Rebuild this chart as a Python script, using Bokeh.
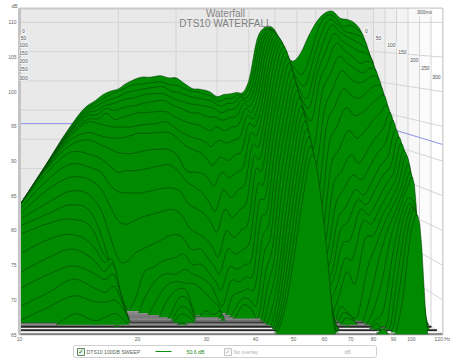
import numpy as np
from bokeh.embed import file_html
from bokeh.layouts import column
from bokeh.models import BoxAnnotation, FixedTicker, Label
from bokeh.plotting import figure
from bokeh.resources import INLINE

FREQS = [10, 12, 14, 16, 17, 18, 19, 20, 21, 22, 23.5, 25, 27, 28.5, 30, 32, 34, 35, 36, 38, 40, 42, 44, 46, 48, 50,
         53, 56, 60, 64, 68, 72, 76, 80, 85, 90, 95, 100, 105, 110, 115, 120]
SLICES_MS = [round(i * 12) for i in range(26)]
BASE = [72.1, 71.8, 71.5, 71.2, 71.0, 70.7, 70.4, 70.1, 69.8, 69.5, 69.2, 69.0, 68.7, 68.4, 68.1, 67.8, 67.5, 67.3,
        67.0, 66.7, 66.4, 66.1, 65.8, 65.6, 65.3, 65.0]
BELOW = 60.0

L_10 = [83.6, 83.6, 83.6, 83.6, 83.6, 83.6, 83.6, 83.6, 83.6, 83.6, 83.0, 82.3, 81.6, 80.6, 79.4, 76.6, 73.9, 71.6, 69.0, 67.0]
L_12 = [89.4, 89.4, 89.4, 89.4, 89.3, 89.3, 89.3, 89.1, 89.0, 88.4, 87.3, 85.9, 84.0, 82.4, 81.0, 78.7, 76.1, 73.7, 71.1, 69.0, 65.1]
L_14 = [94.4, 94.3, 94.1, 94.0, 93.9, 93.7, 93.4, 93.0, 92.3, 91.3, 89.6, 87.7, 85.7, 83.7, 81.6, 79.4, 77.3, 74.9, 73.0, 70.6, 68.0]
L_16 = [97.9, 97.6, 97.3, 97.0, 96.6, 96.1, 95.7, 94.1, 93.0, 90.9, 89.0, 87.1, 84.7, 82.1, 79.9, 77.6, 75.6, 73.7, 71.6, 69.7, 67.0]
L_17 = [98.7, 98.4, 97.9, 97.3, 96.7, 96.1, 95.4, 93.7, 92.4, 90.4, 88.4, 85.9, 82.6, 78.7, 76.6, 75.4, 74.1, 72.9, 71.1, 69.7, 67.6]
L_18 = [99.6, 99.1, 98.6, 98.0, 97.6, 96.9, 95.1, 93.4, 91.9, 89.4, 86.6, 83.4, 78.7, 74.4, 74.7, 75.6, 75.1, 73.6, 71.9, 69.9, 68.0, 66.3]
L_19 = [100.1, 99.7, 99.0, 98.3, 97.3, 96.0, 94.9, 93.3, 91.3, 88.4, 85.6, 81.3, 75.6, 70.9, 69.4, 70.1, 70.1, 69.7, 69.0, 68.4, 66.9]
L_20 = [100.4, 100.1, 99.4, 98.7, 97.6, 96.3, 94.9, 93.4, 91.1, 88.6, 85.4, 80.9, 75.6, 68.6]
L_21 = [101.1, 100.6, 99.9, 99.0, 97.9, 96.6, 94.9, 93.7, 91.1, 88.6, 85.4, 81.4, 76.7, 70.4]
L_22 = [101.6, 101.0, 100.1, 99.1, 98.0, 96.9, 95.1, 94.0, 91.3, 88.7, 85.4, 81.9, 77.3, 73.7, 70.1]
L_23 = [102.1, 101.1, 100.4, 99.6, 98.4, 97.0, 95.3, 94.0, 91.6, 89.0, 85.7, 82.3, 78.0, 74.7, 72.6, 69.7]
L_25 = [102.1, 101.3, 100.6, 99.7, 98.6, 97.1, 95.4, 94.1, 91.7, 89.3, 86.0, 82.7, 78.7, 75.6, 73.7, 71.9, 69.7, 67.0]
L_27 = [102.3, 101.4, 100.7, 99.7, 98.7, 97.1, 95.6, 94.1, 91.6, 89.4, 86.1, 83.0, 79.4, 76.1, 73.7, 72.6, 71.6, 70.4, 69.0, 68.0, 66.7]
L_28 = [102.0, 101.0, 100.1, 99.1, 98.0, 96.4, 94.7, 93.4, 90.7, 88.4, 85.6, 82.3, 79.0, 76.6, 74.4, 72.4, 71.1, 69.9, 68.4, 67.3]
L_30 = [102.0, 100.9, 99.9, 98.7, 97.6, 95.9, 94.0, 92.3, 88.7, 87.0, 83.9, 80.4, 77.3, 75.1, 73.7, 72.3, 67.7]
L_32 = [101.1, 100.3, 99.4, 98.3, 97.0, 95.4, 93.4, 91.6, 88.4, 86.1, 83.0, 79.4, 77.3, 75.1, 73.0, 71.1, 68.4]
L_34 = [100.4, 100.0, 99.1, 98.1, 96.9, 95.1, 93.0, 90.9, 88.0, 84.7, 81.9, 78.3, 75.6, 73.4, 71.6, 69.7, 67.9]
L_35 = [100.4, 99.9, 99.0, 98.0, 96.6, 94.7, 92.6, 90.1, 87.3, 83.7, 80.9, 77.3, 74.7, 72.6, 70.1, 69.0, 68.4, 68.0, 67.3]
L_36 = [100.3, 99.7, 98.9, 97.9, 96.4, 94.4, 92.1, 89.4, 86.4, 82.7, 79.7, 76.1, 73.7, 71.3, 69.0]
L_38 = [100.0, 99.4, 98.6, 97.6, 96.3, 94.9, 93.0, 90.6, 88.4, 85.9, 83.0, 79.9, 77.3, 74.7, 72.7, 70.4, 68.3, 67.4]
L_40 = [99.3, 98.6, 97.9, 97.0, 95.9, 94.4, 92.6, 90.1, 87.6, 84.7, 81.9, 79.0, 76.6, 74.4, 72.6, 71.1, 70.1, 69.3]
L_42 = [99.6, 99.0, 98.3, 97.4, 96.3, 94.9, 93.0, 90.9, 88.4, 85.9, 83.0, 80.1, 77.3, 75.1, 73.3, 71.6, 70.1, 68.7]
L_44 = [99.7, 99.1, 98.4, 97.6, 96.6, 95.3, 93.6, 91.6, 89.3, 86.9, 84.3, 81.4, 78.7, 76.1, 73.9, 71.9, 69.4, 67.6]
L_46 = [99.9, 99.6, 99.3, 98.9, 98.3, 97.6, 96.6, 95.4, 94.0, 92.3, 90.6, 88.7, 86.4, 84.0, 81.6, 79.0, 76.6, 74.1, 71.9, 69.9, 68.1, 67.0, 66.4, 66.1, 66.0, 65.9]
L_48 = [99.9, 99.6, 99.1, 98.6, 97.9, 97.0, 96.1, 95.0, 93.7, 92.1, 90.4, 88.7, 86.9, 85.0, 83.0, 81.1, 79.3, 77.6, 75.9, 74.4, 73.0, 72.0, 71.3, 70.7, 70.1, 69.7]
L_50 = [101.6, 101.3, 100.9, 100.4, 99.9, 99.3, 98.7, 98.0, 97.3, 96.4, 95.6, 94.4, 93.3, 92.0, 90.6, 89.1, 87.6, 86.0, 84.4, 82.7, 81.0, 79.9, 78.7, 77.6, 76.6, 75.6]
L_53 = [107.6, 107.4, 107.1, 106.9, 106.6, 106.1, 105.7, 105.1, 104.6, 103.9, 103.0, 102.0, 100.9, 99.7, 98.4, 97.1, 95.9, 94.6, 93.3, 92.0, 90.9, 89.7, 88.6, 87.4, 86.3, 85.1]
L_56 = [109.3, 109.1, 109.0, 108.9, 108.7, 108.6, 108.3, 108.0, 107.6, 107.1, 106.6, 105.9, 105.1, 104.3, 103.3, 102.3, 101.3, 100.3, 99.3, 98.1, 97.0, 95.9, 94.7, 93.6, 92.3, 91.1]
L_60 = [108.9, 108.1, 107.6, 106.7, 106.0, 105.1, 104.1, 103.0, 102.1, 101.1, 100.1, 99.0, 97.6, 95.1, 94.4, 93.0, 91.9, 90.9, 90.1, 88.7, 87.6, 86.1, 84.7, 83.0, 81.6, 80.4]
L_64 = [105.9, 105.1, 104.4, 103.6, 101.9, 100.4, 99.1, 97.6, 95.9, 93.7, 92.6, 91.6, 90.4, 89.4, 88.0, 86.7, 85.6, 84.4, 82.7, 79.4, 76.6, 73.7, 71.3, 69.0, 67.0, 64.7]
L_68 = [104.4, 103.3, 101.9, 100.4, 99.1, 97.6, 94.4, 92.0, 89.4, 85.9, 83.0, 80.9, 78.7, 76.6, 74.4, 72.7, 70.9, 68.7]
L_72 = [105.6, 102.6, 100.9, 99.1, 97.7, 95.9, 91.9, 89.1, 85.4, 82.3, 79.9, 78.0, 76.6, 75.1, 73.7, 73.0, 71.6, 70.1, 69.0, 68.1, 67.3, 66.3]
L_76 = [108.0, 105.4, 104.4, 103.3, 102.7, 101.6, 99.9, 97.3, 95.1, 92.3, 89.4, 86.6, 83.7, 81.6, 79.9, 78.0, 75.9, 74.1, 68.0, 67.6, 67.0]
L_80 = [109.9, 109.0, 108.0, 106.9, 105.6, 104.1, 102.3, 100.1, 97.7, 94.9, 91.6, 88.4, 85.9, 83.4, 81.3, 78.7, 75.9, 72.3, 67.6]
L_85 = [111.3, 111.0, 110.4, 109.6, 108.4, 107.0, 105.1, 103.0, 100.4, 97.7, 94.4, 90.9, 88.0, 85.9, 84.4, 83.0, 81.3, 78.7, 74.4, 70.1, 68.0, 67.0, 66.6, 65.9, 65.4, 65.9]
L_90 = [111.6, 110.7, 109.7, 108.6, 107.3, 105.9, 104.1, 102.0, 99.4, 96.6, 93.3, 89.7, 87.3, 85.1, 83.7, 82.3, 80.9, 79.4, 78.0, 75.9, 72.3, 68.7, 66.1]
L_95 = [110.6, 109.4, 108.7, 107.9, 106.6, 105.0, 103.3, 101.3, 99.1, 97.0, 94.4, 91.6, 89.4, 87.3, 85.9, 84.4, 83.3, 82.3, 81.3, 80.1, 78.7, 76.6, 75.1, 73.7, 72.3, 70.1]
L_100 = [110.4, 109.6, 108.4, 107.3, 105.9, 104.1, 102.7, 101.6, 100.1, 98.1, 95.9, 93.4, 91.3, 89.4, 88.0, 86.6, 85.4, 84.4, 83.7, 83.0, 82.7, 82.3, 81.9, 81.3, 80.9, 80.1]
L_105 = [109.9, 109.0, 108.0, 106.7, 105.6, 104.4, 103.4, 102.3, 100.9, 99.0, 97.0, 94.7, 92.7, 90.9, 89.4, 88.4, 87.6, 86.9, 86.3, 86.0, 85.9, 84.7, 83.7, 82.7, 81.9, 80.9]
L_110 = [108.7, 107.9, 106.9, 105.7, 104.7, 103.6, 102.7, 101.6, 100.4, 99.3, 98.0, 97.0, 95.9, 94.7, 93.6, 92.6, 91.6, 90.9, 89.4, 88.0, 86.6, 81.6, 78.0, 71.6, 65.9]
L_115 = [106.1, 104.4, 103.3, 102.1, 101.3, 99.9, 98.7, 97.6, 96.3, 95.1, 94.0, 92.7, 91.6, 90.6, 89.7, 88.4, 87.3, 85.1, 81.6, 77.3, 70.9, 65.1]
L_120 = [104.1, 103.0, 101.9, 100.4, 99.1, 97.7, 96.3, 94.9, 93.4, 91.6, 90.1, 88.4, 86.6, 84.4, 81.6, 78.0, 74.4, 70.1]

COLUMNS = [L_10, L_12, L_14, L_16, L_17, L_18, L_19, L_20, L_21, L_22, L_23, L_25, L_27, L_28, L_30, L_32, L_34, L_35,
           L_36, L_38, L_40, L_42, L_44, L_46, L_48, L_50, L_53, L_56, L_60, L_64, L_68, L_72, L_76, L_80, L_85, L_90,
           L_95, L_100, L_105, L_110, L_115, L_120]

Y_TICKS = [65, 70, 75, 80, 85, 90, 95, 100, 105, 110]
X_TICKS = [10, 20, 30, 40, 50, 60, 70, 80, 90, 100, 120]
X_LABELS = {10: "10", 20: "20", 30: "30", 40: "40", 50: "50", 60: "60", 70: "70", 80: "80", 90: "90", 100: "100", 120: "120 Hz"}
WALL_TIMES = [50, 100, 150, 200, 250, 300]
TIME_LABELS = ["0", "50", "100", "150", "200", "250", "300"]
BLUE_BACK_DB = 95.4
BLUE_FRONT_DB = 92.4
TITLE = "Waterfall"
SUBTITLE = "DTS10 WATERFALL"
TRACE_NAME = "DTS10 100DB SWEEP"
TRACE_LEVEL = "50.6 dB"
OVERLAY = "No overlay"

FONT = "Liberation Sans"
GREEN = "#008a00"
LINE = "#003c00"
BLUE = "#8f8fe6"
GRID = "#d4d4d4"


def hz(px):
    return 10 * 10 ** ((px - 19) / 392)


def lvl(py):
    return 113 - py / 7


def squeeze(ms):
    return 0.837 + 0.163 * ms / 300


def project(f, ms):
    return 10 * (np.asarray(f, dtype=float) / 10) ** squeeze(ms)


def curve(x, y, steps=4):
    """Round off the corners of a drawn slice (cubic Hermite through its read points)."""
    lx = np.log10(x)
    m = np.gradient(y, lx)
    xs, ys = [], []
    for i in range(len(lx) - 1):
        h = lx[i + 1] - lx[i]
        for t in np.arange(steps) / steps:
            a = (1 + 2 * t) * (1 - t) ** 2
            b = t * (1 - t) ** 2
            c = t ** 2 * (3 - 2 * t)
            d = t ** 2 * (t - 1)
            xs.append(lx[i] + t * h)
            ys.append(a * y[i] + b * h * m[i] + c * y[i + 1] + d * h * m[i + 1])
    xs.append(lx[-1])
    ys.append(y[-1])
    return 10 ** np.array(xs), np.array(ys)


p = figure(width=450, height=344, output_backend="svg", toolbar_location=None, x_axis_type="log",
           x_range=(10, 120), y_range=(65, 112), min_border_left=19, min_border_right=8, min_border_top=7,
           min_border_bottom=8, background_fill_color="#e9e9e9", border_fill_color="#ffffff",
           outline_line_color="#c9c9c9", outline_line_width=2)
p.grid.visible = False
p.title.text = "dB"
p.title.text_font = FONT
p.title.text_font_size = "5px"
p.title.text_font_style = "normal"
p.title.text_color = "#666666"
p.title.standoff = 0
p.title.offset = -8

for ax, ticks in ((p.xaxis[0], X_TICKS), (p.yaxis[0], Y_TICKS)):
    ax.ticker = FixedTicker(ticks=ticks, minor_ticks=[])
    ax.major_tick_line_color = None
    ax.minor_tick_line_color = None
    ax.major_tick_out = 0
    ax.major_tick_in = 0
    ax.minor_tick_out = 0
    ax.minor_tick_in = 0
    ax.major_label_text_font = FONT
    ax.major_label_text_font_size = "5px"
    ax.major_label_text_color = "#666666"
    ax.major_label_standoff = 1
p.xaxis[0].axis_line_color = None
p.xaxis[0].major_label_overrides = {k: v for k, v in X_LABELS.items()}
p.yaxis[0].axis_line_color = "#c4c4c4"
p.yaxis[0].axis_line_width = 3
p.yaxis[0].major_label_standoff = 3

# side wall: lighter towards the viewer
wall_edges = [project(120, 0)] + [project(120, t) for t in WALL_TIMES]
wall_cols = ["#ececec", "#f0f0f0", "#f4f4f4", "#f8f8f8", "#fcfcfc", "#ffffff"]
p.quad(left=wall_edges[:-1], right=wall_edges[1:], bottom=65, top=112, fill_color=wall_cols, line_color=None)

# walls: grid lines
for f in X_TICKS[1:]:
    xb = float(project(f, 0))
    p.line([xb, xb], [65, 112], line_color=GRID, line_width=1)
for t in WALL_TIMES:
    xb = float(project(120, t))
    p.line([xb, xb], [65, 112], line_color=GRID, line_width=1)
xb, xf = float(project(120, 0)), float(project(120, 300))
for d in Y_TICKS:
    back = 110 - (110 - d) * 0.843
    p.line([10, xb, xf], [back, back, d], line_color=GRID, line_width=1)
p.line([10, xb, xf], [BLUE_BACK_DB, BLUE_BACK_DB, BLUE_FRONT_DB], line_color=BLUE, line_width=1)
p.line([10.03, 10.03], [65, 112], line_color=BLUE, line_width=1.5)

STRIPES = ["#a4a4a4", "#969696", "#8a8a8a", "#808080", "#777777", "#808080", "#707070", "#3a3a3a",
           "#8a8a8a", "#222222", "#f0f0f0", "#262626", "#f4f4f4", "#3a3a3a"]
first_stripe = len(SLICES_MS) - len(STRIPES)

table = np.array([c + [BELOW] * (len(SLICES_MS) - len(c)) for c in COLUMNS], dtype=float).T
for k, ms in enumerate(SLICES_MS):
    base = BASE[k]
    row = np.maximum(table[k], base - 0.6)
    x, y = curve(project(FREQS, ms), row)
    if k >= first_stripe:
        p.line([10, float(project(120, ms))], [base, base], line_color=STRIPES[k - first_stripe], line_width=2.2)
    top = np.maximum(y, base)
    p.varea(x=x, y1=np.full(len(x), base), y2=top, fill_color=GREEN)
    above = y > base
    keep = above | np.r_[above[1:], False] | np.r_[False, above[:-1]]
    p.line(x=x, y=np.where(keep, top, np.nan), line_color=LINE, line_width=0.55)


def text(fig, x, y, s, size, color="#777777", align="center", bg=None):
    fig.add_layout(Label(x=x, y=y, text=s, text_font=FONT, text_font_size=size, text_color=color,
                         text_align=align, text_baseline="middle", background_fill_color=bg,
                         background_fill_alpha=0.85 if bg else 1.0, padding=1))


text(p, hz(225), lvl(12), TITLE, "10px", "#858585")
text(p, hz(225), lvl(22), SUBTITLE, "10px", "#808080")
text(p, hz(424), lvl(11), "300ms", "5px", "#555555", bg="#f8f8f8")
for s, yy in zip(TIME_LABELS, [30, 37, 44, 52, 60, 68, 77]):
    text(p, hz(23), lvl(yy), s, "5px", "#555555", bg="#f4f4f4")
for s, xx, yy in zip(TIME_LABELS, [366, 378, 391, 402, 414, 425, 436], [30, 37, 44, 51, 59, 67, 76]):
    text(p, hz(xx), lvl(yy), s, "5px", "#555555", bg="#f8f8f8")

# legend strip below the chart; the column lines its frame up with the chart's frame
q = figure(width=450, height=14, output_backend="svg", toolbar_location=None, x_range=(19, 442), y_range=(358, 344),
           min_border=0, outline_line_color=None, background_fill_color="#ffffff", border_fill_color="#ffffff")
q.axis.visible = False
q.grid.visible = False


def box(x0, x1, y0, y1, fill, line=None, radius=0, level="annotation"):
    q.add_layout(BoxAnnotation(left=x0, right=x1, top=y0, bottom=y1, fill_color=fill, fill_alpha=1, level=level,
                               line_color=line, line_alpha=1 if line else 0, line_width=1, border_radius=radius))


box(73, 376, 345, 357, "#ffffff", "#cfcfcf", 2, level="underlay")
box(77, 84, 348, 355, "#eef4ee", "#668866")
text(q, 80.5, 351, "\u2713", "7px", "#227722")
text(q, 85, 351, TRACE_NAME, "5.2px", "#556655", align="left")
q.line([155, 171], [351, 351], line_color="#108a10", line_width=1.2)
text(q, 195, 351, TRACE_LEVEL, "5.2px", "#1a8a1a")
box(224, 231, 348, 355, "#fafafa", "#c4c4c4")
text(q, 227.5, 351, "\u2713", "7px", "#bbbbbb")
text(q, 232, 351, OVERLAY, "5.2px", "#b4b4b4", align="left")
text(q, 347, 351, "dB", "5.2px", "#b4b4b4")

open("out.html", "w").write(file_html(column(p, q, spacing=0), INLINE))
